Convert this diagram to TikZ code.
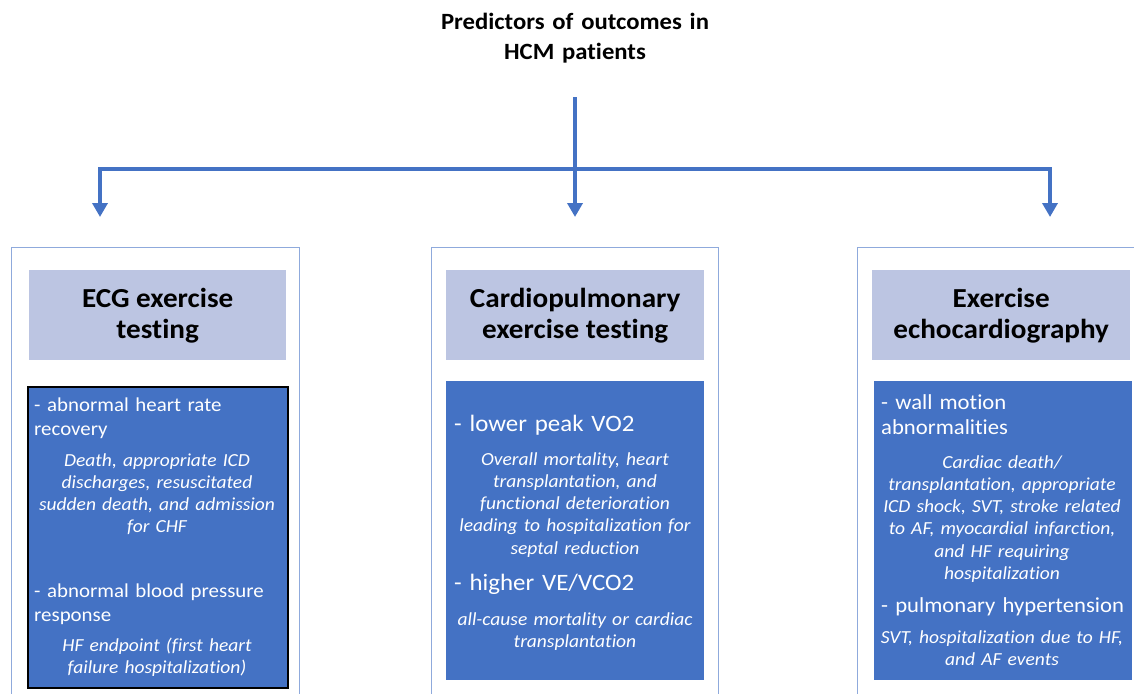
\documentclass[tikz,border=0pt]{standalone}
\usepackage{fontspec}
\setmainfont{Carlito}[FakeStretch=1.06,Ligatures=NoCommon]
\usepackage{tikz}
\usetikzlibrary{arrows.meta,positioning}
\definecolor{HcmBlue}{HTML}{4472C4}
\definecolor{HcmFrame}{HTML}{8FAADC}
\definecolor{HcmPale}{HTML}{BCC5E2}
\tikzset{
  >=Triangle,
  titletext/.style={anchor=base,text width=340pt,align=center,inner sep=0pt,
    font=\fontsize{23.3}{30}\selectfont\bfseries},
  framebox/.style={draw=HcmFrame,line width=1.3pt,anchor=north west,inner sep=0pt},
  headbox/.style={fill=HcmPale,anchor=north west,minimum height=90pt,inner sep=0pt,
    align=center,font=\fontsize{27.5}{31}\selectfont\bfseries},
  findbox/.style={fill=HcmBlue,anchor=north west,inner sep=0pt},
  markertext/.style={text=white,anchor=base west,text width=252pt,align=left,inner sep=0pt},
  outcometext/.style={text=white,anchor=base,text width=258pt,align=center,inner sep=0pt,
    font=\fontsize{18.4}{22.3}\selectfont\itshape},
  flow/.style={-{Triangle[width=15pt,length=14pt]},line width=4pt,draw=HcmBlue}
}

\begin{document}
\begin{tikzpicture}[x=1pt,y=-1pt]
  \useasboundingbox (0,0) rectangle (1134,693);
  \clip (0,0) rectangle (1134,693);

  \node[titletext] (title) at (575,30) {Predictors of outcomes in\\HCM patients};

  \coordinate (stem) at (575,97);
  \coordinate (hub) at (575,169);
  \coordinate (ecgtip) at (100,217);
  \coordinate (cpettip) at (575,217);
  \coordinate (echotip) at (1050,217);
  \draw[flow] (stem) -- (cpettip);
  \draw[flow] (hub) -| (ecgtip);
  \draw[flow] (hub) -| (echotip);

  \node[framebox,minimum width=288pt,minimum height=470pt] (ecgframe) at (11,247) {};
  \node[framebox,minimum width=287pt,minimum height=470pt] (cpetframe) at (431,247) {};
  \node[framebox,minimum width=300pt,minimum height=470pt] (echoframe) at (857,247) {};

  \node[headbox,minimum width=257pt] (ecghead) at (29,270) {ECG exercise\\testing};
  \node[headbox,minimum width=258pt] (cpethead) at (446,270) {Cardiopulmonary\\exercise testing};
  \node[headbox,minimum width=258pt] (echohead) at (872,270) {Exercise\\echocardiography};

  \node[findbox,draw=black,line width=1.5pt,minimum width=260pt,minimum height=301pt] (ecgfind) at (27,386) {};
  \node[findbox,minimum width=258pt,minimum height=299pt] (cpetfind) at (446,381) {};
  \node[findbox,minimum width=258pt,minimum height=299pt] (echofind) at (874,381) {};

  \node[markertext,font=\fontsize{19.7}{24.5}\selectfont] (hrr) at (34,411) {- abnormal heart rate\\recovery};
  \node[outcometext] (hrrout) at (157,466) {Death, appropriate ICD\\discharges, resuscitated\\sudden death, and admission\\for CHF};
  \node[markertext,font=\fontsize{19.7}{24.5}\selectfont] (bpr) at (34,597) {- abnormal blood pressure\\response};
  \node[outcometext] (bprout) at (157,651) {HF endpoint (first heart\\failure hospitalization)};

  \node[markertext,font=\fontsize{23.5}{28}\selectfont] (vo2) at (454,431) {- lower peak VO2};
  \node[outcometext] (vo2out) at (575,465) {Overall mortality, heart\\transplantation, and\\functional deterioration\\leading to hospitalization for\\septal reduction};
  \node[markertext,font=\fontsize{23.5}{28}\selectfont] (vevco2) at (454,590) {- higher VE/VCO2};
  \node[outcometext] (vevco2out) at (575,625) {all-cause mortality or cardiac\\transplantation};

  \node[markertext,font=\fontsize{21.4}{25.5}\selectfont] (wma) at (881,409) {- wall motion\\abnormalities};
  \node[outcometext] (wmaout) at (1002,468) {Cardiac death/\\transplantation, appropriate\\ICD shock, SVT, stroke related\\to AF, myocardial infarction,\\and HF requiring\\hospitalization};
  \node[markertext,font=\fontsize{21.4}{25.5}\selectfont] (pht) at (881,612) {- pulmonary hypertension};
  \node[outcometext] (phtout) at (1002,643) {SVT, hospitalization due to HF,\\and AF events};
\end{tikzpicture}
\end{document}
